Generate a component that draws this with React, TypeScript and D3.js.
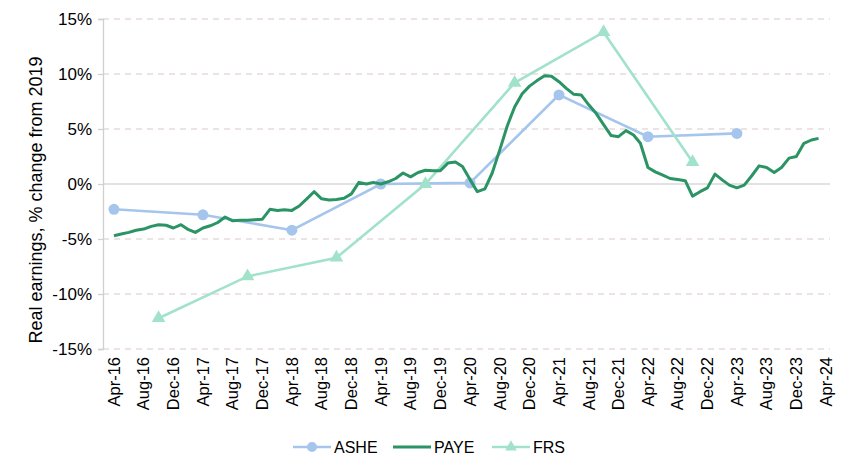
import { useEffect, useRef } from 'react';
import * as d3 from 'd3';

// tick labels along the bottom (every 4 months)
const tickLabels = [
  'Apr-16', 'Aug-16', 'Dec-16', 'Apr-17', 'Aug-17', 'Dec-17', 'Apr-18', 'Aug-18', 'Dec-18',
  'Apr-19', 'Aug-19', 'Dec-19', 'Apr-20', 'Aug-20', 'Dec-20', 'Apr-21', 'Aug-21', 'Dec-21',
  'Apr-22', 'Aug-22', 'Dec-22', 'Apr-23', 'Aug-23', 'Dec-23', 'Apr-24',
];
const yTicks = [-15, -10, -5, 0, 5, 10, 15];

// ASHE: annual, April
const asheDates = ['Apr-16', 'Apr-17', 'Apr-18', 'Apr-19', 'Apr-20', 'Apr-21', 'Apr-22', 'Apr-23'];
const asheValues = [-2.3, -2.8, -4.2, 0.0, 0.1, 8.1, 4.3, 4.6];

// FRS: annual, mid financial year
const frsDates = ['Oct-16', 'Oct-17', 'Oct-18', 'Oct-19', 'Oct-20', 'Oct-21', 'Oct-22'];
const frsValues = [-12.2, -8.4, -6.7, 0.0, 9.2, 13.8, 2.0];

// PAYE: monthly, Apr-16 .. Mar-24
const payeStart = 'Apr-16';
const payeValues = [
  -4.7, -4.55, -4.4, -4.2, -4.1, -3.85, -3.7, -3.75, -4.0, -3.7, -4.15, -4.4,
  -4.0, -3.8, -3.5, -3.0, -3.35, -3.3, -3.3, -3.25, -3.2, -2.3, -2.4, -2.35,
  -2.4, -2.0, -1.35, -0.7, -1.35, -1.45, -1.4, -1.3, -0.9, 0.15, 0.0, 0.15,
  0.0, 0.2, 0.5, 1.0, 0.65, 1.05, 1.25, 1.2, 1.2, 1.9, 2.0, 1.6,
  0.4, -0.7, -0.45, 1.0, 3.1, 5.3, 7.0, 8.2, 8.9, 9.4, 9.85, 9.8,
  9.3, 8.7, 8.15, 8.1, 7.2, 6.4, 5.4, 4.4, 4.3, 4.85, 4.45, 3.7,
  1.5, 1.1, 0.8, 0.5, 0.4, 0.3, -1.1, -0.7, -0.35, 0.9, 0.35, -0.1,
  -0.35, -0.1, 0.75, 1.65, 1.5, 1.05, 1.5, 2.35, 2.5, 3.7, 4.0, 4.15,
];

const colors = { ashe: '#a6c5ec', paye: '#2b9465', frs: '#a2e2cb' };
const font = '"Liberation Sans", Arial, sans-serif';

interface Pt {
  date: Date;
  value: number;
}

const App: React.FC = () => {
  const svgRef = useRef<SVGSVGElement | null>(null);

  useEffect(() => {
    if (svgRef.current === null) return;
    const width = 848;
    const height = 467;
    const parse = d3.timeParse('%b-%y');

    const svg = d3.select(svgRef.current).attr('width', width).attr('height', height);
    svg.selectAll('*').remove();

    const x = d3
      .scaleTime()
      .domain([new Date(2016, 1, 16), new Date(2024, 3, 17)])
      .range([103, 830]);
    const y = d3.scaleLinear().domain([-15, 15]).range([349, 19]);

    // gridlines (0% solid, others dashed)
    svg
      .selectAll('.grid')
      .data(yTicks)
      .enter()
      .append('line')
      .attr('x1', 103)
      .attr('x2', 830)
      .attr('y1', (d) => y(d))
      .attr('y2', (d) => y(d))
      .attr('stroke', (d) => (d === 0 ? '#d9d9d9' : '#e6dcdc'))
      .attr('stroke-width', 1.3)
      .attr('stroke-dasharray', (d) => (d === 0 ? null : '6,5'));

    // y axis
    const yAxis = svg
      .append('g')
      .attr('transform', 'translate(103,0)')
      .call(d3.axisLeft(y).tickValues(yTicks).tickSize(5).tickPadding(6).tickFormat((d) => `${d}%`));
    yAxis.select('.domain').attr('stroke', '#d0d0d0').attr('stroke-width', 1.3);
    yAxis.selectAll('.tick line').attr('stroke', '#d0d0d0').attr('stroke-width', 1.3);
    yAxis
      .selectAll('.tick text')
      .attr('fill', '#000')
      .style('font-family', font)
      .style('font-size', '17px');

    svg
      .append('text')
      .attr('transform', `translate(42,${y(0) + 16}) rotate(-90)`)
      .attr('text-anchor', 'middle')
      .attr('fill', '#000')
      .style('font-family', font)
      .style('font-size', '18px')
      .text('Real earnings, % change from 2019');

    // x tick labels
    svg
      .selectAll('.xlab')
      .data(tickLabels)
      .enter()
      .append('text')
      .attr('transform', (d) => `translate(${x(parse(d)!)},357) rotate(-90)`)
      .attr('text-anchor', 'end')
      .attr('dy', '0.35em')
      .attr('fill', '#000')
      .style('font-family', font)
      .style('font-size', '16.5px')
      .text((d) => d);

    const line = d3
      .line<Pt>()
      .x((d) => x(d.date))
      .y((d) => y(d.value));

    const ashe: Pt[] = asheDates.map((d, i) => ({ date: parse(d)!, value: asheValues[i] }));
    const frs: Pt[] = frsDates.map((d, i) => ({ date: parse(d)!, value: frsValues[i] }));
    const s = parse(payeStart)!;
    const paye: Pt[] = payeValues.map((v, i) => ({ date: d3.timeMonth.offset(s, i), value: v }));

    // ASHE
    svg
      .append('path')
      .datum(ashe)
      .attr('d', line)
      .attr('fill', 'none')
      .attr('stroke', colors.ashe)
      .attr('stroke-width', 2.6);
    svg
      .selectAll('.ashe-pt')
      .data(ashe)
      .enter()
      .append('circle')
      .attr('cx', (d) => x(d.date))
      .attr('cy', (d) => y(d.value))
      .attr('r', 5.5)
      .attr('fill', colors.ashe);

    // FRS
    const tri = d3.symbol().type(d3.symbolTriangle).size(80);
    svg
      .append('path')
      .datum(frs)
      .attr('d', line)
      .attr('fill', 'none')
      .attr('stroke', colors.frs)
      .attr('stroke-width', 2.6);
    svg
      .selectAll('.frs-pt')
      .data(frs)
      .enter()
      .append('path')
      .attr('d', tri)
      .attr('transform', (d) => `translate(${x(d.date)},${y(d.value)})`)
      .attr('fill', colors.frs);

    // PAYE
    svg
      .append('path')
      .datum(paye)
      .attr('d', line)
      .attr('fill', 'none')
      .attr('stroke', colors.paye)
      .attr('stroke-width', 3)
      .attr('stroke-linejoin', 'round');

    // legend
    const legend = [
      { label: 'ASHE', color: colors.ashe, x: 293, marker: 'circle' },
      { label: 'PAYE', color: colors.paye, x: 393, marker: 'none' },
      { label: 'FRS', color: colors.frs, x: 492, marker: 'tri' },
    ];
    const lg = svg.append('g').attr('transform', 'translate(0,447)');
    legend.forEach((l) => {
      lg.append('line')
        .attr('x1', l.x)
        .attr('x2', l.x + 38)
        .attr('y1', 0)
        .attr('y2', 0)
        .attr('stroke', l.color)
        .attr('stroke-width', l.marker === 'none' ? 3 : 2.6);
      if (l.marker === 'circle') {
        lg.append('circle').attr('cx', l.x + 19).attr('cy', 0).attr('r', 5).attr('fill', l.color);
      } else if (l.marker === 'tri') {
        lg.append('path')
          .attr('d', d3.symbol().type(d3.symbolTriangle).size(60)())
          .attr('transform', `translate(${l.x + 19},0)`)
          .attr('fill', l.color);
      }
      lg.append('text')
        .attr('x', l.x + 41)
        .attr('y', 0)
        .attr('dy', '0.35em')
        .attr('fill', '#000')
        .style('font-family', font)
        .style('font-size', '16px')
        .text(l.label);
    });
  }, []);

  return <svg ref={svgRef} style={{ position: 'absolute', left: 0, top: 0 }}></svg>;
};

export default App;
